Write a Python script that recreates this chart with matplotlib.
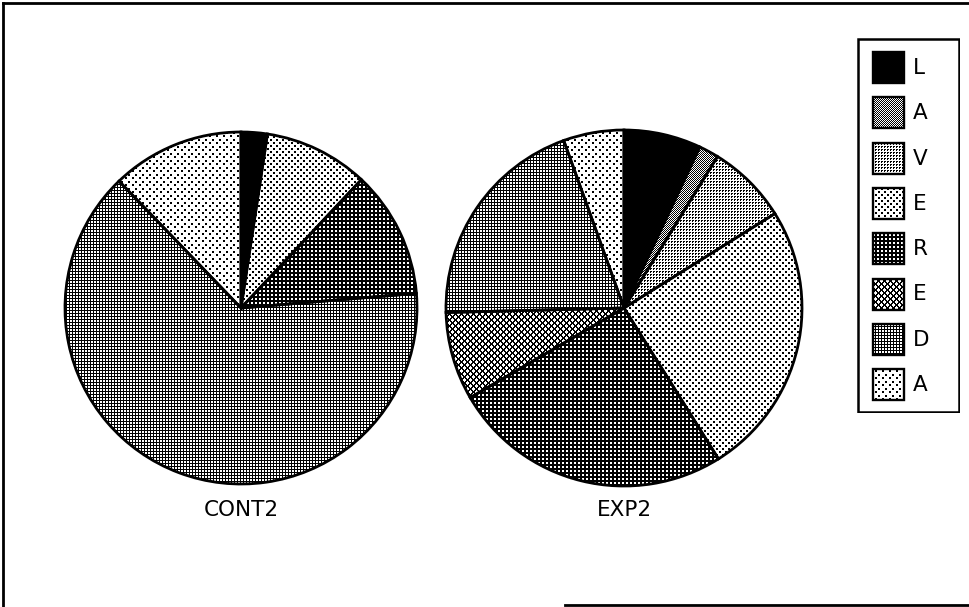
import numpy as np
import matplotlib
matplotlib.use("Agg")
import matplotlib.pyplot as plt
from matplotlib.patches import Rectangle
from matplotlib.lines import Line2D

# ---- data -------------------------------------------------------------
categories = ['L', 'A', 'V', 'E', 'R', 'E', 'D', 'A']
cont2 = [2.4, 0.0, 0.0, 9.6, 11.7, 0.0, 64.2, 12.2]
exp2 = [7.0, 1.8, 7.3, 25.0, 25.5, 8.0, 19.9, 5.5]
pie_titles = ['CONT2', 'EXP2']

# one bitmap fill per category, in legend order
fills = ['solid', 'checker', 'grid_dots', 'sparse', 'dark', 'cross', 'mesh', 'sparse2']

W, H = 969, 607
DPI = 100


def texture(kind, h, w):
    """Return a black/white bitmap (0 = black, 1 = white) for a fill style."""
    i, j = np.indices((h, w))
    if kind == 'solid':
        black = np.ones((h, w), bool)
    elif kind == 'checker':
        black = (i + j) % 2 == 0
    elif kind == 'grid_dots':
        black = (((i % 3) == 0) & ((j % 3) < 2)) | (((i % 3) == 1) & ((j % 3) == 0))
    elif kind == 'sparse':
        black = (((i % 6) < 2) & ((j % 6) < 2)) | ((((i + 3) % 6) < 2) & (((j + 3) % 6) < 2))
    elif kind == 'dark':
        black = ~(((i % 4) < 2) & ((j % 4) < 2))
    elif kind == 'cross':
        black = ((i + j) % 6 < 2) | ((i - j) % 6 < 2)
    elif kind == 'mesh':
        black = (i % 3 == 0) | (j % 3 == 0)
    elif kind == 'sparse2':
        black = (((i % 7) < 2) & ((j % 7) < 2)) | ((((i + 4) % 7) < 2) & (((j + 3) % 7) < 2))
    else:
        black = np.zeros((h, w), bool)
    return np.where(black, 0.0, 1.0)


fig = plt.figure(figsize=(W / DPI, H / DPI), dpi=DPI)
fig.patch.set_facecolor('white')


def px_axes(left, top, width, height):
    """Axes placed with pixel coordinates measured from the top-left corner."""
    return fig.add_axes([left / W, (H - top - height) / H, width / W, height / H])


def draw_pie(values, cx, cy, radius, title):
    size = 380
    ax = px_axes(cx - size / 2, cy - size / 2, size, size)
    lim = (size / 2) / radius
    wedges, _ = ax.pie(values, startangle=90, counterclock=False, radius=1.0,
                       wedgeprops=dict(facecolor='none', edgecolor='black',
                                       linewidth=2.0, zorder=3))
    for wedge, kind, v in zip(wedges, fills, values):
        if v <= 0:
            wedge.set_visible(False)
            continue
        im = ax.imshow(texture(kind, size, size), cmap='gray', vmin=0, vmax=1,
                       extent=(-lim, lim, -lim, lim), interpolation='nearest',
                       zorder=1)
        im.set_clip_path(wedge)
    ax.set_xlim(-lim, lim)
    ax.set_ylim(-lim, lim)
    ax.set_aspect('equal')
    ax.axis('off')
    fig.text(cx / W, 1 - 510 / H, title, ha='center', va='center',
             fontsize=15.5, family='DejaVu Sans')


draw_pie(cont2, 241, 308, 176, pie_titles[0])
draw_pie(exp2, 624, 308, 178, pie_titles[1])

# ---- legend -----------------------------------------------------------
lw_, lh_ = 103, 375
lax = px_axes(857, 38, lw_, lh_)
lax.set_xlim(0, lw_)
lax.set_ylim(lh_, 0)
lax.axis('off')
lax.add_patch(Rectangle((1, 1), lw_ - 2, lh_ - 2, fill=False, ec='black', lw=1.8))
for k, (lab, kind) in enumerate(zip(categories, fills)):
    y0 = 14 + 45.3 * k
    box = Rectangle((16, y0), 31, 31, facecolor='none', edgecolor='black',
                    lw=1.7, zorder=3)
    lax.add_patch(box)
    im = lax.imshow(texture(kind, lh_, lw_), cmap='gray', vmin=0, vmax=1,
                    extent=(0, lw_, lh_, 0), origin='upper',
                    interpolation='nearest', zorder=1)
    im.set_clip_path(box)
    lax.text(56, y0 + 16, lab, ha='left', va='center', fontsize=15.5,
             family='DejaVu Sans')
lax.set_xlim(0, lw_)
lax.set_ylim(lh_, 0)
lax.set_aspect('auto')

# ---- outer frame ------------------------------------------------------
def fig_line(x0, y0, x1, y1):
    fig.add_artist(Line2D([x0 / W, x1 / W], [1 - y0 / H, 1 - y1 / H],
                          color='black', lw=2.0, transform=fig.transFigure))

fig_line(3, 3, W, 3)
fig_line(3, 3, 3, 606)
fig_line(565, 605, W, 605)

fig.savefig('out.png', dpi=DPI, facecolor='white')
